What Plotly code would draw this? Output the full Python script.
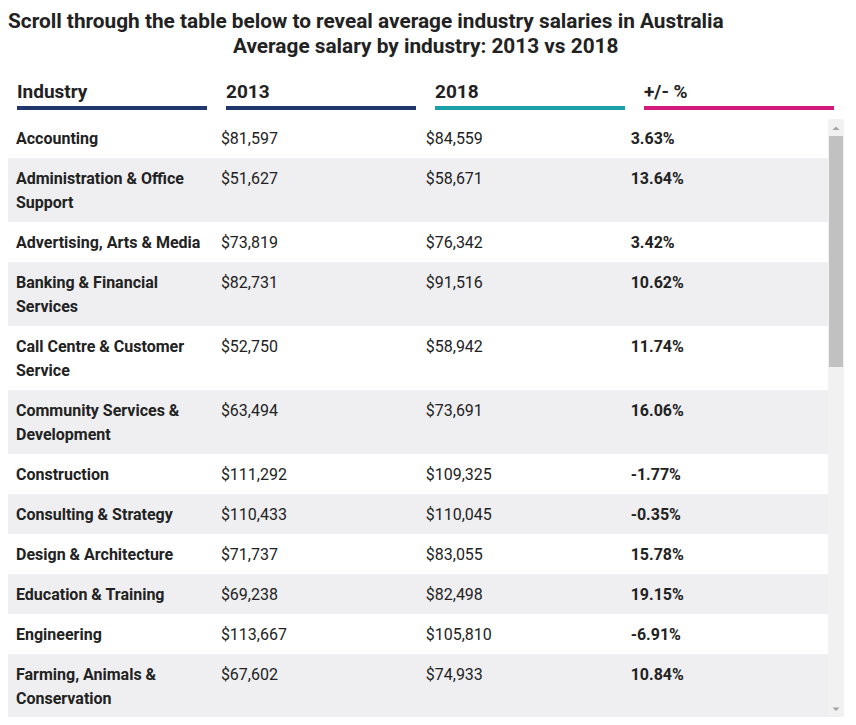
import plotly.graph_objects as go

# ---------------- data ----------------
columns = ["Industry", "2013", "2018", "+/- %"]
industries = [
    "Accounting",
    "Administration & Office<br>Support",
    "Advertising, Arts & Media",
    "Banking & Financial<br>Services",
    "Call Centre & Customer<br>Service",
    "Community Services &<br>Development",
    "Construction",
    "Consulting & Strategy",
    "Design & Architecture",
    "Education & Training",
    "Engineering",
    "Farming, Animals &<br>Conservation",
]
salary_2013 = [81597, 51627, 73819, 82731, 52750, 63494, 111292, 110433, 71737, 69238, 113667, 67602]
salary_2018 = [84559, 58671, 76342, 91516, 58942, 73691, 109325, 110045, 83055, 82498, 105810, 74933]
change_pct = [3.63, 13.64, 3.42, 10.62, 11.74, 16.06, -1.77, -0.35, 15.78, 19.15, -6.91, 10.84]

title_text = "Scroll through the table below to reveal average industry salaries in Australia"
subtitle_text = "Average salary by industry: 2013 vs 2018"
header_colors = ["#1f376c", "#1f376c", "#1aa0a9", "#d5187b"]

# ---------------- layout constants (page pixels) ----------------
PAGE_W, PAGE_H = 856, 725
BODY_MARGIN = 8  # default page margin around the plot div
FIG_W, FIG_H = PAGE_W - BODY_MARGIN, PAGE_H - 2 * BODY_MARGIN
TABLE_LEFT, TABLE_RIGHT = 8, 827.5
TABLE_TOP = 118
LINE_H = 24
ROW_PAD = 16
TEXT_PAD_X = 8
TEXT_OFFSET_Y = 21.5
FONT = "Roboto, 'Open Sans', sans-serif"
TEXT_COLOR = "#222222"

col_w = (TABLE_RIGHT - TABLE_LEFT) / len(columns)
col_left = [TABLE_LEFT + i * col_w for i in range(len(columns))]

# formatted cell values
cells = [
    industries,
    ["${:,}".format(v) for v in salary_2013],
    ["${:,}".format(v) for v in salary_2018],
    ["{:.2f}%".format(v) for v in change_pct],
]

# row geometry derived from the number of text lines
n_lines = [max(len(str(cells[c][r]).split("<br>")) for c in range(len(columns))) for r in range(len(industries))]
row_h = [ROW_PAD + LINE_H * n for n in n_lines]
row_top = []
acc = TABLE_TOP
for h in row_h:
    row_top.append(acc)
    acc += h
row_center = [t + h / 2 for t, h in zip(row_top, row_h)]

fig = go.Figure()

# row backgrounds (zebra striping)
fig.add_trace(go.Bar(
    orientation="h",
    y=row_center,
    x=[TABLE_RIGHT - TABLE_LEFT] * len(industries),
    base=TABLE_LEFT,
    width=row_h,
    marker=dict(color=["#ffffff" if i % 2 == 0 else "#efeff1" for i in range(len(industries))],
                line=dict(width=0)),
    hoverinfo="skip",
    showlegend=False,
))

# cell text
weights = ["bold", "normal", "normal", "bold"]
for c in range(len(columns)):
    xs, ys, ts = [], [], []
    for r in range(len(industries)):
        for k, line in enumerate(str(cells[c][r]).split("<br>")):
            xs.append(col_left[c] + TEXT_PAD_X)
            ys.append(row_top[r] + TEXT_OFFSET_Y + LINE_H * k)
            ts.append(line)
    fig.add_trace(go.Scatter(
        x=xs, y=ys, text=ts, mode="text", textposition="middle right",
        textfont=dict(family=FONT, size=16, color=TEXT_COLOR, weight=weights[c]),
        hoverinfo="skip", showlegend=False, cliponaxis=False,
    ))

# header labels and coloured underlines
HEADER_X0 = 17
HEADER_STEP = 209
HEADER_BAR_W = 190
for i, name in enumerate(columns):
    x0 = HEADER_X0 + i * HEADER_STEP
    fig.add_annotation(x=x0, xshift=-2, y=91.5, xref="x", yref="y", text=name, showarrow=False,
                       xanchor="left", yanchor="middle",
                       font=dict(family=FONT, size=19, color=TEXT_COLOR, weight="bold"))
    fig.add_shape(type="rect", x0=x0, x1=x0 + HEADER_BAR_W, y0=106, y1=110, xref="x", yref="y",
                  fillcolor=header_colors[i], line=dict(width=0), layer="above")

# titles
fig.add_annotation(x=8, xshift=-2, y=21.3, xref="x", yref="y", text=title_text, showarrow=False,
                   xanchor="left", yanchor="middle",
                   font=dict(family=FONT, size=20.8, color=TEXT_COLOR, weight="bold"))
fig.add_annotation(x=425.5, y=45.5, xref="x", yref="y", text=subtitle_text, showarrow=False,
                   xanchor="center", yanchor="middle",
                   font=dict(family=FONT, size=20.8, color=TEXT_COLOR, weight="bold"))

# scrollbar (decoration)
fig.add_shape(type="rect", x0=828, x1=844, y0=119, y1=718, xref="x", yref="y",
              fillcolor="#f1f1f1", line=dict(width=0), layer="above")
fig.add_shape(type="rect", x0=829, x1=843, y0=136, y1=367, xref="x", yref="y",
              fillcolor="#c1c1c1", line=dict(width=0), layer="above")
fig.add_shape(type="path", path="M 832.5 130 L 839.5 130 L 836 126.5 Z", xref="x", yref="y",
              fillcolor="#a3a3a3", line=dict(width=0), layer="above")
fig.add_shape(type="path", path="M 832.5 707.5 L 839.5 707.5 L 836 711 Z", xref="x", yref="y",
              fillcolor="#a3a3a3", line=dict(width=0), layer="above")

# axes map one unit to one page pixel (plot div sits BODY_MARGIN px from page edge)
fig.update_layout(
    width=FIG_W, height=FIG_H,
    margin=dict(l=0, r=0, t=0, b=0),
    paper_bgcolor="white", plot_bgcolor="white",
    xaxis=dict(range=[BODY_MARGIN, BODY_MARGIN + FIG_W], visible=False, fixedrange=True),
    yaxis=dict(range=[BODY_MARGIN + FIG_H, BODY_MARGIN], visible=False, fixedrange=True),
    hovermode=False,
    bargap=0,
)

fig.write_html("out.html", config={"displayModeBar": False})
